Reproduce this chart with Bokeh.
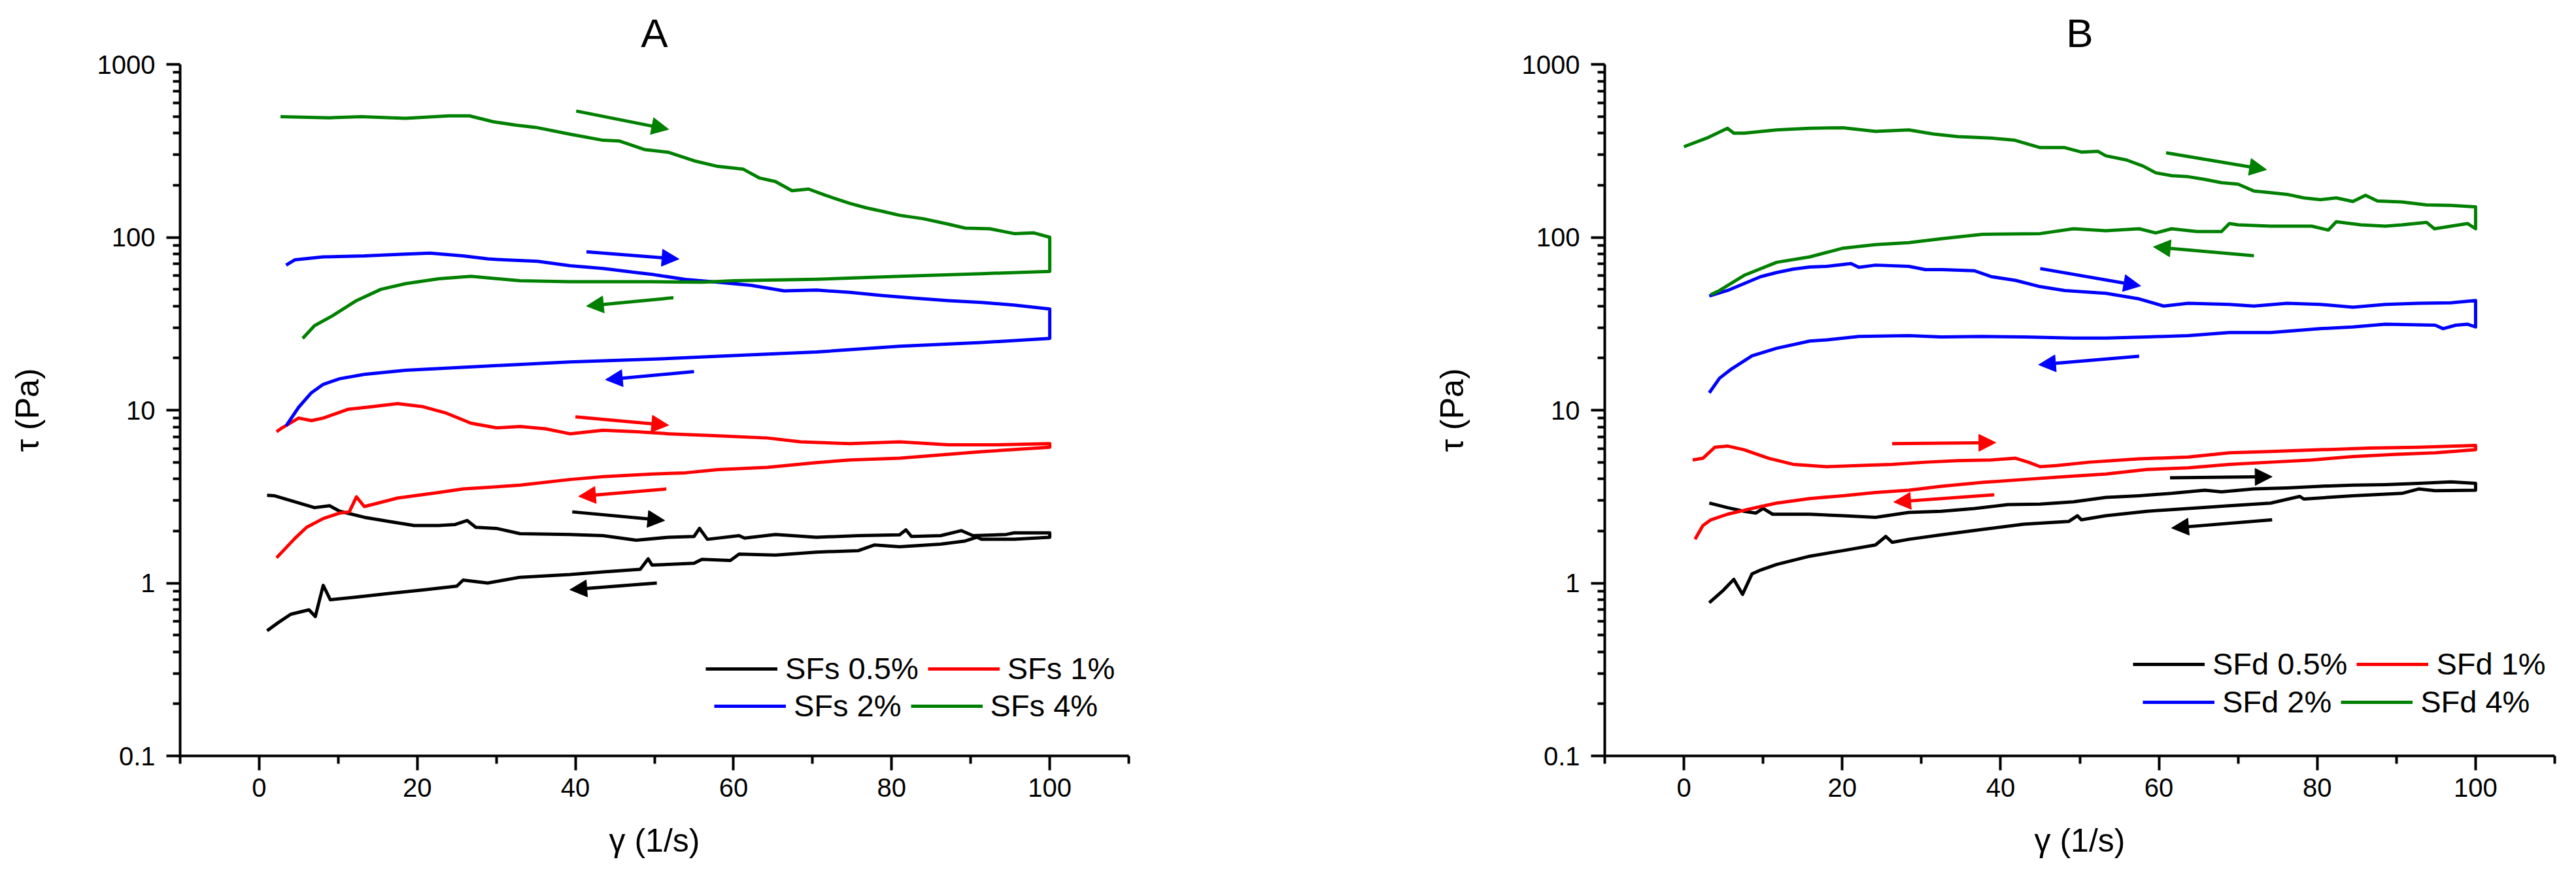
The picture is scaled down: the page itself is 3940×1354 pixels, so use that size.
from bokeh.plotting import figure
from bokeh.layouts import row
from bokeh.models import (FixedTicker, CustomJSTickFormatter, Range1d, Legend, LegendItem,
                          Arrow, NormalHead, ColumnDataSource)
from bokeh.embed import file_html
from bokeh.resources import INLINE

FONT = "Liberation Sans"

# ---------------- Panel A (SFs) ----------------
A_05_xf = [1, 1.9, 4, 7, 8.9, 10.2, 13.3, 16.4, 19.6, 22.7, 24.8, 26.3, 27.4, 30, 33, 39.3, 43.5, 47.7,
           51.8, 55, 55.7, 56.7, 60.7, 61.4, 65.3, 70.5, 75.8, 81, 81.8, 82.5, 86.2, 88.8, 90.3, 94.5, 95.5, 100]
A_05_yf = [3.22, 3.2, 3.0, 2.73, 2.8, 2.6, 2.4, 2.27, 2.15, 2.15, 2.18, 2.3, 2.1, 2.07, 1.93, 1.91, 1.88, 1.77,
           1.84, 1.86, 2.07, 1.79, 1.88, 1.82, 1.91, 1.84, 1.88, 1.9, 2.03, 1.86, 1.88, 2.01, 1.88, 1.91, 1.95, 1.95]
A_05_xb = [100, 95.5, 91.4, 90.8, 89.3, 86.2, 81, 77.8, 75.8, 70.5, 65.3, 60.7, 59.6, 56, 55, 49.7, 49.2, 48.2,
           43.5, 39.3, 33, 28.9, 25.8, 25, 20.6, 16.4, 12.3, 9.0, 8.1, 7.1, 6.3, 4, 2.4, 1]
A_05_yb = [1.84, 1.79, 1.79, 1.84, 1.75, 1.68, 1.62, 1.66, 1.54, 1.51, 1.45, 1.47, 1.35, 1.37, 1.30, 1.27, 1.38, 1.20,
           1.16, 1.12, 1.08, 1.0, 1.04, 0.96, 0.91, 0.87, 0.83, 0.80, 0.97, 0.64, 0.70, 0.66, 0.59, 0.53]

A_1_xf = [2.2, 2.9, 5, 6.6, 8.1, 11.2, 14.4, 17.5, 20.6, 23.7, 26.8, 30, 33, 36.2, 39.3, 43.5, 47.7, 51.8,
          58, 64.3, 68.5, 74.7, 81, 87.2, 93.4, 100]
A_1_yf = [7.5, 7.9, 9.0, 8.7, 9.0, 10.1, 10.5, 10.9, 10.5, 9.6, 8.4, 7.9, 8.05, 7.8, 7.3, 7.65, 7.5, 7.3,
          7.1, 6.9, 6.55, 6.4, 6.55, 6.3, 6.3, 6.4]
A_1_xb = [100, 91.4, 81, 74.7, 70.5, 64.3, 58, 53.9, 49.7, 43.5, 39.3, 33, 25.8, 22.7, 17.5, 13.3, 12.3, 11.4,
          10.2, 8.1, 6, 4.5, 2.2]
A_1_yb = [6.1, 5.75, 5.27, 5.15, 4.97, 4.67, 4.53, 4.34, 4.27, 4.12, 3.97, 3.68, 3.5, 3.34, 3.1, 2.77, 3.15, 2.58,
          2.54, 2.36, 2.1, 1.81, 1.40]

A_2_xf = [3.4, 4.5, 8.1, 13.3, 18.5, 21.6, 25.8, 28.9, 31, 35.2, 39.3, 43.5, 47.7, 49.7, 53.9, 58, 62.2, 66.4,
          70.5, 74.7, 78.9, 83, 87.2, 91.4, 95.5, 100]
A_2_yf = [69, 74, 77, 78, 80, 81, 78, 75, 74, 72.6, 68.5, 66, 62.5, 61, 57, 55, 52.7, 49,
          49.5, 48, 46, 44.4, 43, 42, 40.5, 38.5]
A_2_xb = [100, 91.4, 81, 70.5, 60, 49.7, 39.3, 28.9, 18.5, 13.3, 10.2, 8.1, 6.6, 5, 3.4]
A_2_yb = [26, 24.6, 23.4, 21.7, 20.7, 19.7, 19, 18, 17, 16.1, 15.2, 14.1, 12.6, 10.4, 8.1]

A_4_xf = [2.7, 8.9, 12.9, 18.5, 24, 26.6, 29.6, 32.5, 35, 39.3, 43.5, 45.6, 48.7, 51.8, 55, 58, 61.2, 63.3,
          65.3, 67.4, 69.5, 71.6, 74.7, 76.8, 78.9, 81, 84, 87.2, 89.3, 92.4, 95.5, 98, 100]
A_4_yf = [498, 491, 498, 488, 504, 504, 466, 445, 432, 395, 364, 360, 322, 310, 277, 257, 248, 220,
          210, 186, 190, 175, 157, 148, 141, 134, 128, 119, 113, 112, 105, 106, 100]
A_4_xb = [100, 91.4, 81, 70.5, 60, 56, 49.7, 39.3, 33, 26.8, 22.7, 18.5, 15.4, 12.3, 9.2, 7, 5.5]
A_4_yb = [63.5, 61.6, 59.4, 57.1, 56, 55, 55.3, 55.3, 56, 59.4, 57.5, 53.9, 50, 43, 35, 30.8, 26.0]

# arrows: x_start, y_start, x_end, y_end, color
A_arr_x0 = [40.1, 41.4, 52.4, 55.0, 40.0, 51.5, 39.6, 50.3]
A_arr_y0 = [537, 82.4, 44.7, 16.7, 9.15, 3.5, 2.58, 1.0]
A_arr_x1 = [51.8, 53.1, 41.4, 43.8, 51.8, 40.4, 51.3, 39.3]
A_arr_y1 = [421, 74.8, 40.0, 15.0, 8.18, 3.17, 2.30, 0.915]
A_arr_c = ["green", "blue", "green", "blue", "red", "red", "black", "black"]

# ---------------- Panel B (SFd) ----------------
B_05_xf = [3.2, 5.5, 7.6, 9.1, 10, 11.2, 15.9, 20.1, 24.2, 28.4, 32.5, 36.7, 40.9, 45, 49.2, 53.3, 57.5, 61.6,
           65.8, 67.9, 72, 76.2, 80.4, 84.5, 88.6, 92.8, 96.9, 100]
B_05_yf = [2.9, 2.73, 2.6, 2.54, 2.7, 2.5, 2.5, 2.45, 2.4, 2.56, 2.6, 2.7, 2.84, 2.86, 2.95, 3.13, 3.2, 3.3,
           3.44, 3.37, 3.5, 3.55, 3.63, 3.68, 3.71, 3.77, 3.85, 3.77]
B_05_xb = [100, 94.9, 92.8, 90.7, 84.5, 78.3, 77.8, 74.1, 68.9, 63.7, 58.5, 53.3, 50.2, 49.7, 48.6, 42.9, 37.7,
           32.5, 28.4, 26.3, 25.5, 24.2, 20.1, 15.9, 11.7, 9.7, 8.6, 7.4, 6.3, 5, 3.2]
B_05_yb = [3.44, 3.42, 3.5, 3.3, 3.2, 3.06, 3.17, 2.9, 2.8, 2.7, 2.6, 2.45, 2.32, 2.45, 2.27, 2.19, 2.04,
           1.9, 1.79, 1.72, 1.86, 1.66, 1.54, 1.43, 1.28, 1.19, 1.13, 0.86, 1.05, 0.91, 0.77]

B_1_xf = [1.1, 2.4, 3.9, 5.5, 7.6, 10.7, 13.8, 18, 22.1, 26.3, 30.5, 34.6, 38.8, 41.9, 43.5, 45, 47.1, 51.2,
          57.5, 63.7, 68.9, 74.1, 80.4, 86.6, 92.8, 100]
B_1_yf = [5.15, 5.27, 6.1, 6.2, 5.9, 5.27, 4.86, 4.71, 4.78, 4.86, 5.0, 5.1, 5.15, 5.27, 5.0, 4.71, 4.78, 5.0,
          5.23, 5.35, 5.67, 5.76, 5.9, 6.03, 6.1, 6.25]
B_1_xb = [100, 94.9, 89.7, 84.5, 79.3, 74.1, 68.9, 63.7, 58.5, 53.3, 48.1, 42.9, 37.7, 32.5, 28.4, 24.2, 20.1,
          15.9, 11.7, 8.6, 5.5, 3.4, 2.4, 1.4]
B_1_yb = [5.9, 5.67, 5.55, 5.39, 5.15, 5.0, 4.86, 4.64, 4.54, 4.27, 4.12, 3.97, 3.82, 3.63, 3.44, 3.34, 3.2,
          3.08, 2.9, 2.7, 2.5, 2.32, 2.15, 1.79]

B_2_xf = [3.2, 5.5, 9.7, 11.7, 13.8, 15.9, 18, 21.1, 22.1, 24.2, 28.4, 30.5, 32.6, 36.7, 38.8, 41.9, 45, 48.1,
          53.3, 57.5, 60.6, 63.7, 68.9, 72, 76.2, 80.4, 84.5, 88.6, 92.8, 96.9, 100]
B_2_yf = [45.7, 49.2, 59.2, 62.5, 65.4, 67.3, 67.9, 70.5, 67, 69, 67.9, 65, 65, 64, 59.2, 56.3, 51.8, 49.2,
          47.4, 44, 40, 41.5, 40.9, 40, 41.5, 40.9, 39.4, 40.9, 41.5, 41.8, 43.1]
B_2_xb = [100, 99, 97.5, 95.9, 94.9, 88.6, 84.5, 80.4, 74.1, 68.9, 63.7, 58.5, 53.3, 49.2, 42.9, 37.7, 32.5,
          28.4, 22.1, 18, 15.9, 11.7, 8.6, 6, 4.5, 3.2]
B_2_yb = [30.3, 31.4, 31, 29.6, 31, 31.4, 30.3, 29.6, 28.1, 28.1, 27, 26.5, 26.1, 26.1, 26.5, 26.7, 26.5,
          27, 26.7, 25.5, 25.1, 22.8, 20.6, 17.3, 15.3, 12.6]

B_4_xf = [0, 2.9, 5.5, 6.3, 7.6, 11.7, 15.9, 20.1, 24.2, 28.4, 31.5, 34.6, 38.8, 41.8, 45, 48.1, 50.2, 52.3,
          53.3, 55.9, 58, 59.6, 61.6, 63.7, 65.8, 67.9, 70, 72, 74.1, 76.2, 78.3, 80.4, 82.4, 84.5, 86.1, 87.6,
          90.7, 93.8, 96.9, 100]
B_4_yf = [334, 375, 427, 400, 400, 418, 427, 430, 410, 418, 396, 382, 375, 364, 330, 330, 311, 314,
          296, 280, 258, 236, 227, 224, 216, 207, 203, 185, 181, 177, 169, 165, 169, 161, 175, 162,
          160, 154, 153, 150]
B_4_xb = [100, 99, 96.9, 94.8, 93.8, 90.7, 88.6, 85.5, 82.4, 81.4, 79.3, 74.1, 70, 68.9, 67.9, 64.8, 61.6,
          59.6, 57.5, 53.3, 49.2, 45, 37.7, 32.5, 28.4, 24.2, 20.1, 15.9, 11.7, 7.6, 4.5, 3.4]
B_4_yb = [112, 120, 116, 112, 122, 118, 116, 118, 123, 110, 116, 116, 118, 120, 108, 108, 112,
          106, 112, 109, 112, 105, 104, 98, 93, 90.6, 86.5, 77, 71.6, 60.2, 49.2, 46.6]

B_arr_x0 = [60.9, 72.0, 45.0, 57.5, 26.3, 39.2, 61.4, 74.3]
B_arr_y0 = [308, 78.2, 65.9, 20.5, 6.4, 3.24, 4.06, 2.32]
B_arr_x1 = [73.6, 59.3, 57.7, 44.8, 39.4, 26.5, 74.3, 61.6]
B_arr_y1 = [246, 88.0, 52.3, 18.3, 6.49, 2.94, 4.12, 2.08]
B_arr_c = ["green", "green", "blue", "blue", "red", "red", "black", "black"]

A_labels = ["SFs 0.5%", "SFs 1%", "SFs 2%", "SFs 4%"]
B_labels = ["SFd 0.5%", "SFd 1%", "SFd 2%", "SFd 4%"]
COLORS = ["#000000", "#FF0000", "#0000FF", "#008000"]
COLMAP = {"black": "#000000", "red": "#FF0000", "blue": "#0000FF", "green": "#008000"}

x_major = [0, 20, 40, 60, 80, 100]
x_minor = [-10, 10, 30, 50, 70, 90, 110]
y_major = [0.1, 1, 10, 100, 1000]
y_minor = [m * 10.0 ** e for e in range(-1, 3) for m in range(2, 10)]

W, H = 1962, 1338


def make_panel(title, labels, series, arrows, border_left, border_right, leg_locs):
    p = figure(width=W, height=H, output_backend="svg", toolbar_location=None,
               y_axis_type="log", x_range=Range1d(-10, 110), y_range=Range1d(0.1, 1000),
               min_border_left=border_left, min_border_right=border_right,
               min_border_top=90, min_border_bottom=182)
    p.outline_line_color = None
    p.xgrid.visible = False
    p.ygrid.visible = False
    p.background_fill_color = "white"
    p.border_fill_color = "white"

    p.title.text = title
    p.title.align = "center"
    p.title.text_font = FONT
    p.title.text_font_size = "62px"
    p.title.text_font_style = "normal"
    p.title.text_color = "black"
    p.title.standoff = 27

    for ax in (p.xaxis[0], p.yaxis[0]):
        ax.axis_line_width = 4
        ax.axis_line_color = "black"
        ax.major_tick_line_width = 4
        ax.minor_tick_line_width = 4
        ax.major_tick_line_color = "black"
        ax.minor_tick_line_color = "black"
        ax.major_tick_in = 0
        ax.minor_tick_in = 0
        ax.major_label_text_font = FONT
        ax.major_label_text_font_size = "40px"
        ax.major_label_text_color = "black"
        ax.axis_label_text_font = FONT
        ax.axis_label_text_font_size = "50px"
        ax.axis_label_text_font_style = "normal"
        ax.axis_label_text_color = "black"

    xa = p.xaxis[0]
    xa.ticker = FixedTicker(ticks=x_major, minor_ticks=x_minor)
    xa.major_tick_out = 22
    xa.minor_tick_out = 12
    xa.major_label_standoff = 12
    xa.axis_label = "γ (1/s)"
    xa.axis_label_standoff = 36

    ya = p.yaxis[0]
    ya.ticker = FixedTicker(ticks=y_major, minor_ticks=y_minor)
    ya.formatter = CustomJSTickFormatter(code="return String(Number(tick.toPrecision(6)));")
    ya.major_tick_out = 21
    ya.minor_tick_out = 11
    ya.major_label_standoff = 17
    ya.axis_label = "τ (Pa)"
    ya.axis_label_standoff = 76

    renderers = []
    for (xf, yf, xb, yb), col in zip(series, COLORS):
        r = p.line(xf + xb, yf + yb, line_color=col, line_width=5, line_join="round")
        renderers.append(r)

    x0, y0, x1, y1, cols = arrows
    for a, b, c, d, col in zip(x0, y0, x1, y1, cols):
        cc = COLMAP[col]
        src = ColumnDataSource(dict(x0=[a], y0=[b], x1=[c], y1=[d]))
        p.add_layout(Arrow(x_start="x0", y_start="y0", x_end="x1", y_end="y1", source=src,
                           line_color=cc, line_width=5,
                           end=NormalHead(size=26, fill_color=cc, line_color=cc, line_width=1)))

    for idx, loc in zip([(0, 1), (2, 3)], leg_locs):
        items = [LegendItem(label=labels[i], renderers=[renderers[i]]) for i in idx]
        leg = Legend(items=items, location=loc, orientation="horizontal",
                     glyph_width=110, glyph_height=30, label_standoff=12, spacing=14,
                     padding=0, margin=0, border_line_color=None, background_fill_alpha=0,
                     label_text_font=FONT, label_text_font_size="47px", label_text_color="black")
        p.add_layout(leg, "center")
    return p


pA = make_panel("A", A_labels,
                [(A_05_xf, A_05_yf, A_05_xb, A_05_yb), (A_1_xf, A_1_yf, A_1_xb, A_1_yb),
                 (A_2_xf, A_2_yf, A_2_xb, A_2_yb), (A_4_xf, A_4_yf, A_4_xb, A_4_yb)],
                (A_arr_x0, A_arr_y0, A_arr_x1, A_arr_y1, A_arr_c),
                275, 236, [(804, 106), (817, 49)])
pB = make_panel("B", B_labels,
                [(B_05_xf, B_05_yf, B_05_xb, B_05_yb), (B_1_xf, B_1_yf, B_1_xb, B_1_yb),
                 (B_2_xf, B_2_yf, B_2_xb, B_2_yb), (B_4_xf, B_4_yf, B_4_xb, B_4_yb)],
                (B_arr_x0, B_arr_y0, B_arr_x1, B_arr_y1, B_arr_c),
                492, 17, [(808, 113), (823, 55)])

layout = row(pA, pB)
open("out.html", "w").write(file_html(layout, INLINE))
